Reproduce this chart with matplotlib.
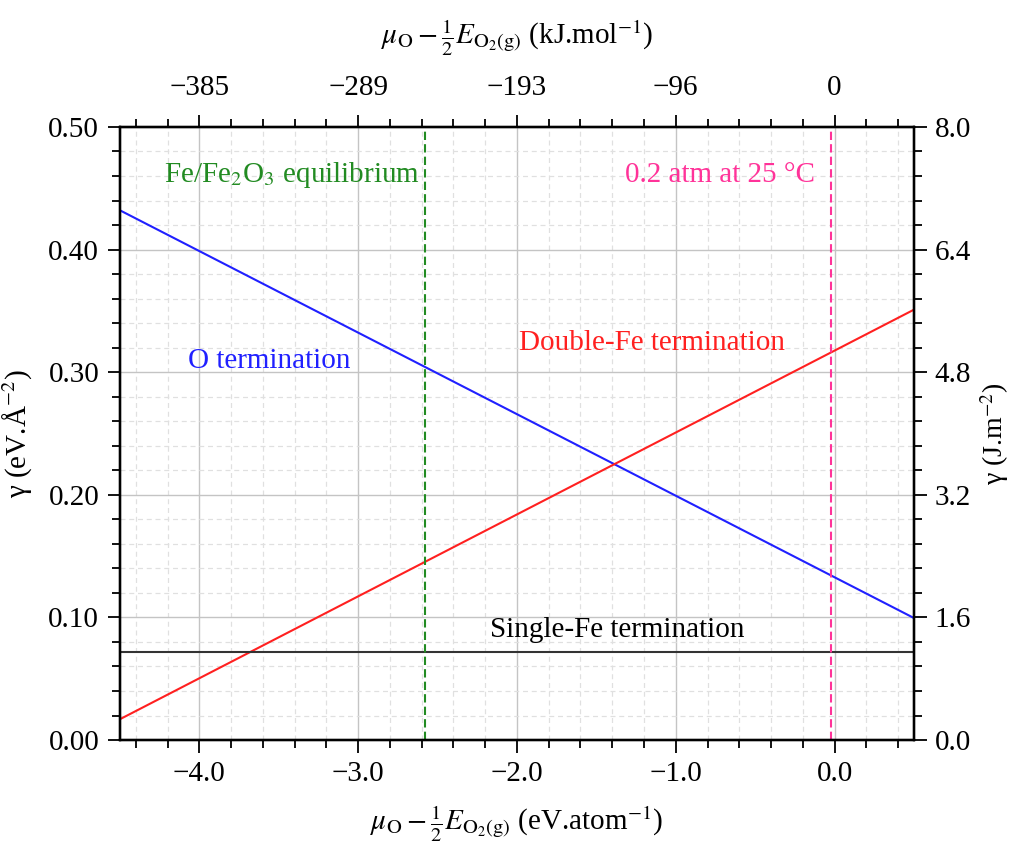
import matplotlib.pyplot as plt
from matplotlib.ticker import MultipleLocator, FixedLocator
import numpy as np

plt.rcParams['font.family'] = ['Liberation Serif', 'DejaVu Serif']
plt.rcParams['mathtext.fontset'] = 'stix'

# data (eV.atom^-1 vs eV.A^-2)
mu = [-4.5, 0.5]
gamma_O = [0.432, 0.0995]
gamma_double_fe = [0.017, 0.351]
gamma_single_fe = [0.0718, 0.0718]
mu_fe_fe2o3 = -2.58
mu_air = -0.025

top_ticks = [-4, -3, -2, -1, 0]
top_labels = ['\u2212385', '\u2212289', '\u2212193', '\u221296', '0']

fs = 21

fig = plt.figure(figsize=(10.11, 8.51), dpi=100)
ax = fig.add_axes([0.1187, 0.1304, 0.7853, 0.7204])

ax.set_xlim(-4.5, 0.5)
ax.set_ylim(0, 0.5)
ax.xaxis.set_major_locator(MultipleLocator(1.0))
ax.xaxis.set_minor_locator(MultipleLocator(0.2))
ax.yaxis.set_major_locator(MultipleLocator(0.1))
ax.yaxis.set_minor_locator(MultipleLocator(0.02))
ax.xaxis.set_major_formatter(plt.FuncFormatter(lambda v, p: f'{v:.1f}'.replace('-', '\u2212')))
ax.yaxis.set_major_formatter(plt.FuncFormatter(lambda v, p: f'{v:.2f}'))
ax.grid(which='major', color='#c4c4c4', lw=1.0, ls='-')
ax.grid(which='minor', color='#e0e0e0', lw=0.9, ls=(0, (4, 3)))
ax.set_axisbelow(True)

ax.plot(mu, gamma_O, color='#2020ff', lw=1.5)
ax.plot(mu, gamma_double_fe, color='#ff2020', lw=1.5)
ax.plot(mu, gamma_single_fe, color='#333333', lw=1.5)
ax.axvline(mu_fe_fe2o3, color='#228b22', lw=1.5, ls=(0, (4, 2)))
ax.axvline(mu_air, color='#ff3399', lw=1.5, ls=(0, (4, 2)))

ax.text(-4.22, 0.461, 'Fe/Fe$_{2}$O$_{3}$ equilibrium', color='#228b22',
        fontsize=fs, va='center', ha='left')
ax.text(-1.32, 0.461, '0.2 atm at 25 \u00b0C', color='#ff3399', fontsize=fs, va='center', ha='left')
ax.text(-4.07, 0.309, 'O termination', color='#2020ff', fontsize=fs, va='center', ha='left')
ax.text(-1.99, 0.324, 'Double-Fe termination', color='#ff2020', fontsize=fs, va='center', ha='left')
ax.text(-1.37, 0.0897, 'Single-Fe termination', color='black', fontsize=fs, va='center', ha='center')

ax.set_xlabel(r'$\mu_{\mathrm{O}} - \frac{1}{2}E_{\mathrm{O_2(g)}}$ (eV.atom$^{-1}$)', fontsize=fs, labelpad=12)
ax.set_ylabel('\u03b3 (eV.\u00c5$^{-2}$)', fontsize=fs, labelpad=10)

ax.tick_params(which='both', direction='out', labelsize=fs, width=1.3)
ax.tick_params(which='major', length=9, pad=6)
ax.tick_params(which='minor', length=6)
for s in ax.spines.values():
    s.set_linewidth(1.6)

# right axis in J.m^-2
axr = ax.twinx()
axr.set_ylim(0, 8.0)
axr.yaxis.set_major_locator(MultipleLocator(1.6))
axr.yaxis.set_minor_locator(MultipleLocator(0.32))
axr.yaxis.set_major_formatter(plt.FuncFormatter(lambda v, p: f'{v:.1f}'))
axr.set_ylabel('\u03b3 (J.m$^{-2}$)', fontsize=20, labelpad=5)
axr.tick_params(which='both', direction='out', labelsize=fs, width=1.3)
axr.tick_params(which='major', length=9, pad=6)
axr.tick_params(which='minor', length=6)

# top axis in kJ.mol^-1
axt = ax.twiny()
axt.set_xlim(ax.get_xlim())
axt.xaxis.set_major_locator(FixedLocator(top_ticks))
axt.xaxis.set_minor_locator(MultipleLocator(0.2))
axt.set_xticklabels(top_labels)
axt.set_xlabel(r'$\mu_{\mathrm{O}} - \frac{1}{2}E_{\mathrm{O_2(g)}}$ (kJ.mol$^{-1}$)', fontsize=fs, labelpad=22)
axt.tick_params(which='both', direction='out', labelsize=fs, width=1.3)
axt.tick_params(which='major', length=9, pad=10)
axt.tick_params(which='minor', length=6)

for a in (axr, axt):
    for s in a.spines.values():
        s.set_linewidth(1.6)

fig.savefig('out.png', dpi=100)
